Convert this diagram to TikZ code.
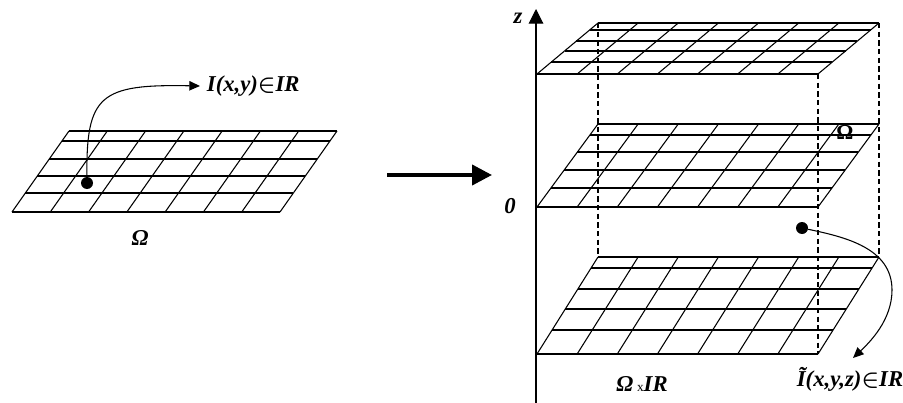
\documentclass[tikz,border=0pt]{standalone}
\usepackage{fontspec}
\setmainfont{Liberation Serif}
\usetikzlibrary{arrows.meta}
\tikzset{
  gridline/.style={line width=0.8pt},
  guide/.style={line width=0.8pt, dash pattern=on 4pt off 2.5pt},
  lbl/.style={font=\fontsize{17}{19}\selectfont\bfseries\itshape, inner sep=1pt},
  dot/.style={circle, fill, inner sep=0pt, minimum size=9pt},
  curvearr/.style={line width=0.8pt, -{Triangle[length=8pt,width=7pt]}},
  bigarr/.style={line width=3pt, -{Triangle[length=15pt,width=15pt]}},
  axisarr/.style={line width=0.8pt, -{Triangle[length=11pt,width=11pt]}}
}
\newcommand{\plane}[6]{%
  \foreach \i in {0,...,7}
    \draw[gridline] ({#1+\i*#2/7},#5) -- ({#1+#3+\i*#2/7},#4);
  \foreach \r in {#6}
    \draw[gridline] ({#1+#3*(#5-\r)/(#5-#4)},\r) -- ++(#2,0);
}
\newcommand{\elem}{{\boldmath$\in$}}
\begin{document}
\begin{tikzpicture}[x=0.75pt, y=-0.75pt]
\useasboundingbox (0,0) rectangle (903,403);
\plane{12}{268}{57}{131}{212}{131,141,159,176,193,212}
\node[dot] (dotl) at (87,183) {};
\node[lbl, anchor=west, inner xsep=5pt] (ixy) at (200,86) {I(x,y)\elem IR};
\draw[curvearr] (dotl) .. controls (86,95) and (100,84) .. (ixy.west);
\node[lbl] (omegal) at (140,238) {Ω};
\coordinate (arrs) at (387,175);
\coordinate (arre) at (492,175);
\draw[bigarr] (arrs) -- (arre);
\coordinate (zbase) at (536,403);
\coordinate (ztop) at (536,9);
\draw[axisarr] (zbase) -- (ztop);
\node[lbl] (zlbl) at (518,18) {z};
\node[lbl] (zero) at (510,206) {0};
\plane{537}{281}{61}{23}{74}{23,30,41,51,62,74}
\plane{537}{281}{61}{124}{207}{124,135,152,170,188,207}
\plane{537}{281}{61}{257}{354}{257,268,289,309,330,354}
\draw[guide] (598,23) -- (598,257);
\draw[guide] (818,74) -- (818,354);
\draw[guide] (879,23) -- (879,257);
\node[lbl, font=\fontsize{16}{18}\selectfont\bfseries] (omegam) at (845,132) {Ω};
\node[dot] (dotr) at (802,228) {};
\coordinate (tipr) at (853,358);
\draw[curvearr] (dotr) .. controls (845,237) and (892,248) .. (892,290) .. controls (892,320) and (870,342) .. (tipr);
\node[lbl] (omegaxr) at (642,384) {Ω\,{\upshape\mdseries\fontsize{10}{11}\selectfont x}IR};
\node[lbl] (itilde) at (850,379) {\~{I}(x,y,z)\elem IR};
\end{tikzpicture}
\end{document}
